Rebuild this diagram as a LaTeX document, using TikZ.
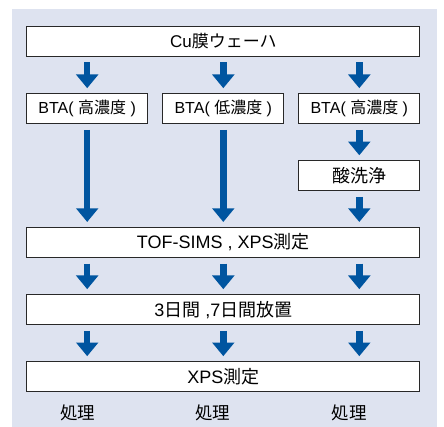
\documentclass[tikz,border=0pt]{standalone}
\usepackage{fontspec}
\setmainfont{Liberation Sans}
\newfontfamily\jpf{Noto Sans CJK JP}
\newcommand\jtx[1]{{\jpf #1}}
\usetikzlibrary{arrows.meta}
\definecolor{bgc}{RGB}{222,227,240}
\definecolor{arrowblue}{RGB}{0,85,160}
\definecolor{boxline}{RGB}{40,40,40}
\tikzset{
  box/.style={draw=boxline, line width=1pt, fill=white, inner sep=0pt,
    minimum height=30pt, font=\fontsize{18pt}{20pt}\selectfont},
  widebox/.style={box, minimum width=393pt},
  smallbox/.style={box, minimum width=121pt},
  btabox/.style={smallbox, font=\fontsize{16pt}{18pt}\selectfont},
  flowarrow/.style={draw=arrowblue, line width=6.5pt,
    -{Triangle[length=13.7pt,width=21.6pt]}, shorten <=5.7pt, shorten >=5pt},
  lbl/.style={inner sep=0pt, font=\fontsize{17.5pt}{20pt}\selectfont}
}
\begin{document}
\begin{tikzpicture}[x=1pt,y=-1pt]
\useasboundingbox (0,0) rectangle (444,427);
\fill[bgc] (12,9) rectangle (436.7,427);

\node[widebox, font=\fontsize{17pt}{20pt}\selectfont] (top) at (223.3,41.3) {Cu\jtx{膜ウェーハ}};
\node[btabox] (bta1) at (87.2,108.7) {BTA( \jtx{高濃度} )};
\node[btabox] (bta2) at (223.3,108.7) {BTA( \jtx{低濃度} )};
\node[btabox] (bta3) at (359.3,108.7) {BTA( \jtx{高濃度} )};
\node[smallbox] (acid) at (359.3,175.8) {\jtx{酸洗浄}};
\node[widebox] (tof) at (223.3,242.5) {TOF-SIMS , XPS\jtx{測定}};
\node[widebox] (days) at (223.3,309.7) {3\jtx{日間} ,7\jtx{日間放置}};
\node[widebox] (xps) at (223.3,376.7) {XPS\jtx{測定}};

\node[lbl] (p1) at (77.5,413) {\jtx{処理}};
\node[lbl] (p2) at (212.5,413) {\jtx{処理}};
\node[lbl] (p3) at (349,413) {\jtx{処理}};

\draw[flowarrow] (top.south -| bta1) -- (bta1.north);
\draw[flowarrow] (top.south -| bta2) -- (bta2.north);
\draw[flowarrow] (top.south -| bta3) -- (bta3.north);

\draw[flowarrow] (bta1.south) -- (tof.north -| bta1);
\draw[flowarrow] (bta2.south) -- (tof.north -| bta2);
\draw[flowarrow] (bta3.south) -- (acid.north);
\draw[flowarrow] (acid.south) -- (tof.north -| acid);

\draw[flowarrow] (tof.south -| bta1) -- (days.north -| bta1);
\draw[flowarrow] (tof.south -| bta2) -- (days.north -| bta2);
\draw[flowarrow] (tof.south -| bta3) -- (days.north -| bta3);

\draw[flowarrow] (days.south -| bta1) -- (xps.north -| bta1);
\draw[flowarrow] (days.south -| bta2) -- (xps.north -| bta2);
\draw[flowarrow] (days.south -| bta3) -- (xps.north -| bta3);
\end{tikzpicture}
\end{document}
